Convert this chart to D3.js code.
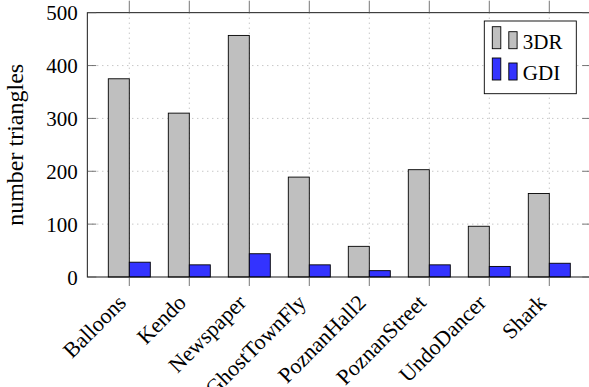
<!DOCTYPE html>
<html>
<head>
<meta charset="utf-8">
<script src="https://cdn.jsdelivr.net/npm/d3@7"></script>
</head>
<body style="margin:0;background:#fff">
<svg id="chart" width="589" height="387" style="display:block"></svg>
<script>
// Sequences and triangle counts per method
const categories = ["Balloons", "Kendo", "Newspaper", "GhostTownFly", "PoznanHall2", "PoznanStreet", "UndoDancer", "Shark"];
const series3DR = [375, 310, 457, 189, 58, 203, 96, 158];
const seriesGDI = [28, 23, 44, 23, 12, 23, 20, 26];
const seriesNames = ["3DR", "GDI"];
const seriesColors = ["#bfbfbf", "#3333ff"];
const yTicks = [0, 100, 200, 300, 400, 500];

const svg = d3.select("#chart");
const margin = { left: 87.3, top: 12.7, right: 591.3, bottom: 277 };
const fontSize = 21;
const serif = '"Liberation Serif"';

const x = d3.scalePoint().domain(categories).range([margin.left + 42, margin.right - 42]);
const y = d3.scaleLinear().domain([0, 500]).range([margin.bottom, margin.top]);
const barW = 21;

// Grid
const grid = svg.append("g").attr("stroke", "#9a9a9a").attr("stroke-width", 0.8).attr("stroke-dasharray", "1,4");
grid.selectAll("line.h").data(yTicks.slice(1, -1)).join("line")
  .attr("x1", margin.left).attr("x2", margin.right)
  .attr("y1", d => y(d)).attr("y2", d => y(d));
grid.selectAll("line.v").data(categories).join("line")
  .attr("x1", d => x(d)).attr("x2", d => x(d))
  .attr("y1", margin.top).attr("y2", margin.bottom);

// Bars
const data = [series3DR, seriesGDI];
data.forEach((vals, si) => {
  svg.append("g").selectAll("rect").data(vals).join("rect")
    .attr("x", (d, i) => x(categories[i]) + (si === 0 ? -barW : 0))
    .attr("width", barW)
    .attr("y", d => y(d))
    .attr("height", d => y(0) - y(d))
    .attr("fill", seriesColors[si])
    .attr("stroke", "#000")
    .attr("stroke-width", 0.9);
});

// Frame
svg.append("rect")
  .attr("x", margin.left).attr("y", margin.top)
  .attr("width", margin.right - margin.left).attr("height", margin.bottom - margin.top)
  .attr("fill", "none").attr("stroke", "#000").attr("stroke-width", 0.9);

// Y axis ticks (inside, both sides)
const ticks = svg.append("g").attr("stroke", "#555").attr("stroke-width", 0.8);
yTicks.forEach(t => {
  ticks.append("line").attr("x1", margin.left).attr("x2", margin.left + 9).attr("y1", y(t)).attr("y2", y(t));
  ticks.append("line").attr("x1", margin.right).attr("x2", margin.right - 9).attr("y1", y(t)).attr("y2", y(t));
});
// X axis ticks (outside, top and bottom)
categories.forEach(c => {
  ticks.append("line").attr("x1", x(c)).attr("x2", x(c)).attr("y1", margin.bottom).attr("y2", margin.bottom + 9);
  ticks.append("line").attr("x1", x(c)).attr("x2", x(c)).attr("y1", margin.top).attr("y2", margin.top - 12);
});

// Y tick labels via axis generator
const yAxis = d3.axisLeft(y).tickValues(yTicks).tickSize(0).tickPadding(9.5);
const gy = svg.append("g").attr("transform", `translate(${margin.left},0)`).call(yAxis);
gy.select(".domain").remove();
gy.selectAll("text").style("font-family", serif).style("font-size", fontSize + "px").attr("dy", "0.34em");

// X tick labels, rotated 45 degrees
const xAxis = d3.axisBottom(x).tickSize(0).tickPadding(0);
const gx = svg.append("g").attr("transform", `translate(0,${margin.bottom})`).call(xAxis);
gx.select(".domain").remove();
gx.selectAll("text")
  .style("font-family", serif).style("font-size", "22px")
  .attr("text-anchor", "end")
  .attr("transform", "translate(-2.4,27) rotate(-45)")
  .attr("x", 0).attr("y", 0).attr("dy", 0);

// Y axis title
svg.append("text")
  .attr("transform", `translate(22.5,${(margin.top + margin.bottom) / 2}) rotate(-90)`)
  .attr("text-anchor", "middle")
  .style("font-family", serif)
  .style("font-size", "24px")
  .text("number triangles");

// Legend
const lg = svg.append("g").attr("transform", "translate(484.3,21)");
lg.append("rect").attr("width", 92).attr("height", 72.7).attr("fill", "#fff").attr("stroke", "#000").attr("stroke-width", 0.9);
seriesNames.forEach((name, i) => {
  const base = 27.7 + i * 31.3;
  lg.append("rect").attr("x", 8).attr("y", base - 22).attr("width", 8.5).attr("height", 22)
    .attr("fill", seriesColors[i]).attr("stroke", "#000").attr("stroke-width", 0.9);
  lg.append("rect").attr("x", 24.5).attr("y", base - 17).attr("width", 8.3).attr("height", 17)
    .attr("fill", seriesColors[i]).attr("stroke", "#000").attr("stroke-width", 0.9);
  lg.append("text").attr("x", 38.5).attr("y", base)
    .style("font-family", serif).style("font-size", fontSize + "px").text(name);
});
</script>
</body>
</html>
